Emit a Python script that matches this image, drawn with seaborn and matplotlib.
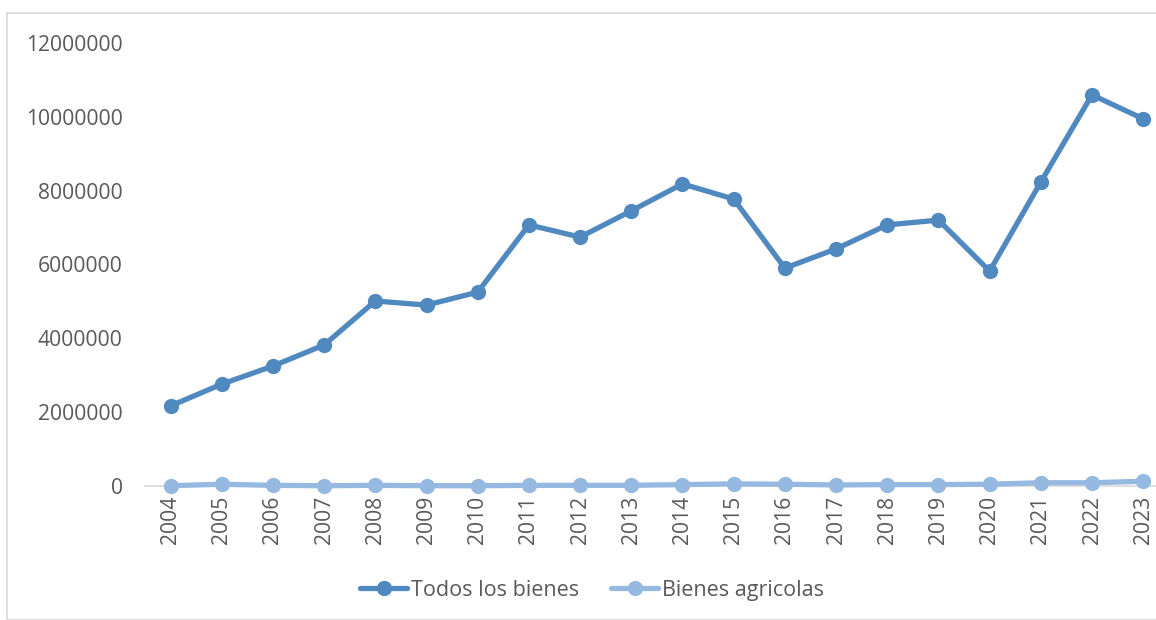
import numpy as np
import pandas as pd
import matplotlib
matplotlib.use("Agg")
import matplotlib.pyplot as plt
import seaborn as sns
from matplotlib.patches import Rectangle

# values
years = list(range(2004, 2024))
todos = [2170000, 2760000, 3250000, 3820000, 5010000, 4900000, 5250000,
         7070000, 6740000, 7450000, 8180000, 7770000, 5900000, 6420000,
         7070000, 7200000, 5820000, 8230000, 10590000, 9940000]
agricolas = [10000, 50000, 20000, 10000, 20000, 10000, 10000, 20000, 20000,
             20000, 40000, 60000, 50000, 30000, 40000, 40000, 50000, 90000,
             90000, 130000]
series_names = ["Todos los bienes", "Bienes agricolas"]
colors = ["#4F89BF", "#95B9E1"]

df = pd.DataFrame({
    "year": years * 2,
    "value": todos + agricolas,
    "serie": [series_names[0]] * len(years) + [series_names[1]] * len(years),
})
df["pos"] = df["year"] - years[0]

sns.set_style("white")
plt.rcParams["font.family"] = ["Open Sans", "DejaVu Sans"]

fig = plt.figure(figsize=(11.56, 6.2), dpi=100)
ax = fig.add_axes([0.1254, 0.216, 1.0 - 0.1254, 0.715])

sns.lineplot(data=df, x="pos", y="value", hue="serie", hue_order=series_names,
             palette=colors, marker="o", markersize=11, markeredgewidth=0,
             linewidth=3.8, ax=ax, clip_on=False, zorder=3)

ax.set_xlim(-0.5, 19.25)
ax.set_ylim(0, 12000000)
ax.set_yticks(np.arange(0, 12000001, 2000000))
ax.set_yticklabels([f"{int(v)}" for v in np.arange(0, 12000001, 2000000)])
ax.set_xticks(range(len(years)))
ax.set_xticklabels([str(y) for y in years], rotation=90)
ax.tick_params(axis="both", length=0, labelsize=15.2, labelcolor="#595959")
ax.tick_params(axis="y", pad=16)
ax.tick_params(axis="x", pad=7)
ax.set_xlabel("")
ax.set_ylabel("")
for s in ["top", "right", "left"]:
    ax.spines[s].set_visible(False)
ax.spines["bottom"].set_color("#D9D9D9")
ax.spines["bottom"].set_linewidth(1.2)
ax.spines["bottom"].set_zorder(1)

leg = ax.legend(loc="center", bbox_to_anchor=(0.512, 0.048),
                bbox_transform=fig.transFigure, ncol=2, frameon=False,
                fontsize=15.5, handlelength=2.2, columnspacing=1.5,
                handletextpad=0.15)
for t in leg.get_texts():
    t.set_color("#595959")

fig.patches.append(Rectangle((7 / 1156, 0), 1.0, 1 - 13 / 620,
                             transform=fig.transFigure, fill=False,
                             edgecolor="#D9D9D9", linewidth=1.2))

fig.savefig("out.png", dpi=100)
